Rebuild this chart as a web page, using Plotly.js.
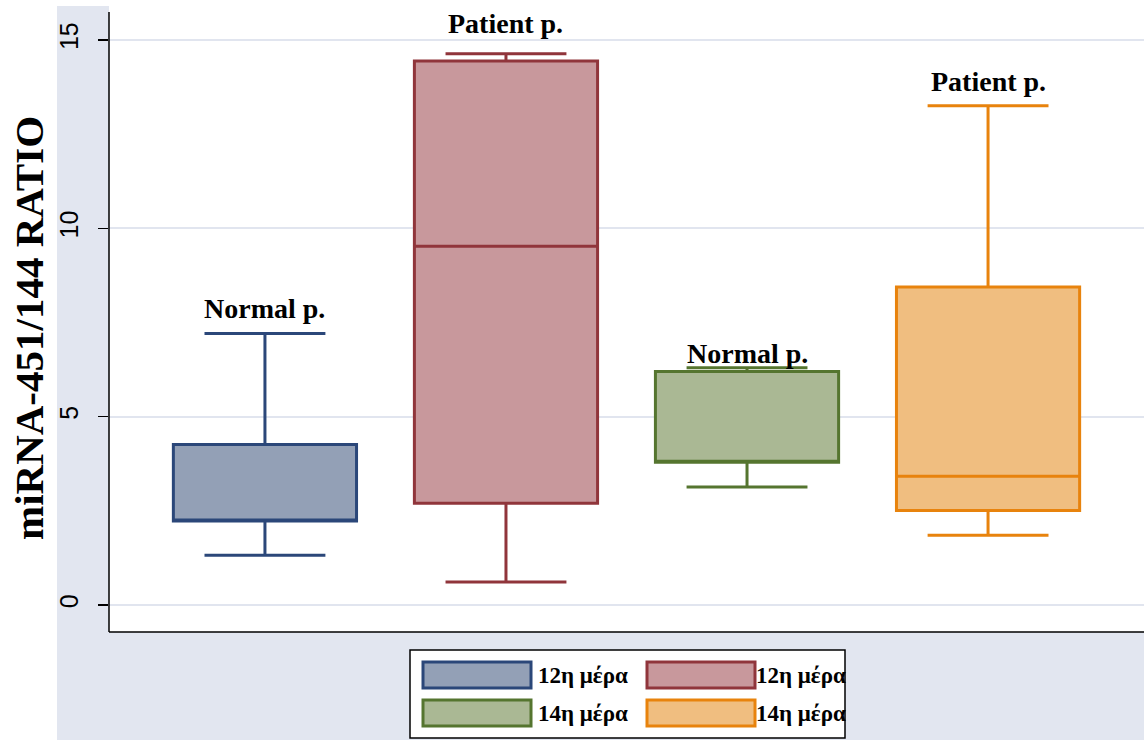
<!DOCTYPE html>
<html>
<head>
<meta charset="utf-8">
<script src="https://cdn.plot.ly/plotly-3.0.1.min.js"></script>
<style>html,body{margin:0;padding:0;background:#fff}#chart{width:1144px;height:740px}</style>
</head>
<body>
<div id="chart"></div>
<script>
// ---- data ----
const groups = ["Normal p.", "Patient p.", "Normal p.", "Patient p."];
const legendNames = ["12η μέρα", "12η μέρα", "14η μέρα", "14η μέρα"];
const lowerFence = [1.32, 0.61, 3.13, 1.85];
const q1Values = [2.23, 2.70, 3.79, 2.51];
const medianValues = [2.23, 9.52, 3.79, 3.42];
const q3Values = [4.26, 14.44, 6.20, 8.44];
const upperFence = [7.21, 14.63, 6.30, 13.25];
const yTicks = [0, 5, 10, 15];
const yTitle = "miRNA-451/144 RATIO";

// ---- styles ----
const lineColors = ["#2B4779", "#90353B", "#55752F", "#E8830D"];
const fillColors = ["#93A0B6", "#C8989C", "#AAB894", "#F0BE80"];
const labelShift = [25, 30, 14, 24];
const W = 1144, H = 740, ML = 109, MB = 108, MT = 0, MR = 0;
const PW = W - ML - MR, PH = H - MT - MB;
const px = X => (X - ML) / PW;
const py = Y => (H - MB - Y) / PH;

const traces = groups.map((g, i) => ({
  type: "box",
  name: legendNames[i],
  x: [i],
  q1: [q1Values[i]],
  median: [medianValues[i]],
  q3: [q3Values[i]],
  lowerfence: [lowerFence[i]],
  upperfence: [upperFence[i]],
  width: 0.76,
  whiskerwidth: 0.66,
  boxpoints: false,
  fillcolor: fillColors[i],
  line: {color: lineColors[i], width: 3},
  hoverinfo: "skip",
  showlegend: false
}));

const serif = "Liberation Serif, Times New Roman, serif";
const greekSerif = "Liberation Serif, DejaVu Serif, serif";
const annotations = groups.map((g, i) => ({
  x: i, y: upperFence[i], xref: "x", yref: "y",
  text: "<b>" + g + "</b>", showarrow: false,
  yanchor: "middle", yshift: labelShift[i],
  font: {family: serif, size: 28, color: "#000"}
}));

// y axis title
annotations.push({xref: "paper", yref: "paper", x: px(29), y: py(328),
  xanchor: "center", yanchor: "middle", textangle: -90, showarrow: false,
  text: "<b>" + yTitle + "</b>", font: {family: serif, size: 41, color: "#000"}});

// custom legend
const shapes = [
  {type: "rect", xref: "paper", yref: "paper", x0: px(0), x1: px(57), y0: py(740), y1: py(0), fillcolor: "#fff", line: {width: 0}, layer: "below"},
  {type: "rect", xref: "paper", yref: "paper", x0: px(0), x1: px(ML), y0: py(6), y1: py(0), fillcolor: "#fff", line: {width: 0}, layer: "below"},
  {type: "line", xref: "paper", yref: "paper", x0: px(109), x1: px(109), y0: py(12), y1: py(632), line: {color: "#000", width: 1.5}},
  {type: "line", xref: "paper", yref: "paper", x0: px(109), x1: px(1144), y0: py(632), y1: py(632), line: {color: "#000", width: 1.5}},
  {type: "rect", xref: "paper", yref: "paper", x0: px(410), x1: px(845), y0: py(650), y1: py(738), fillcolor: "#fff", line: {color: "#000", width: 1.5}}
];
const swX = [423, 647], swY = [675, 713], txtX = [536, 754];
[0, 1, 2, 3].forEach(i => {
  const col = i % 2, row = Math.floor(i / 2);
  shapes.push({type: "rect", xref: "paper", yref: "paper",
    x0: px(swX[col]), x1: px(swX[col] + 108), y0: py(swY[row] + 13), y1: py(swY[row] - 13),
    fillcolor: fillColors[i], line: {color: lineColors[i], width: 3}});
  annotations.push({xref: "paper", yref: "paper", x: px(txtX[col]), y: py(swY[row]),
    xanchor: "left", yanchor: "middle", showarrow: false,
    text: "<b>" + legendNames[i] + "</b>", font: {family: greekSerif, size: 23, color: "#000"}});
});

const layout = {
  width: W, height: H,
  margin: {l: ML, r: MR, t: MT, b: MB, pad: 0},
  paper_bgcolor: "#E2E6F0",
  plot_bgcolor: "#ffffff",
  showlegend: false,
  xaxis: {range: [-0.647, 3.647], showticklabels: false, ticks: "", showgrid: false, zeroline: false, showline: false, fixedrange: true},
  yaxis: {
    range: [-0.717, 16.06], tickvals: yTicks, ticktext: yTicks.map(String),
    tickangle: -90, ticks: "outside", ticklen: 10, tickwidth: 1.5, tickcolor: "#000",
    tickfont: {family: "Liberation Sans, Arial, sans-serif", size: 25, color: "#000"},
    ticklabelstandoff: 10,
    showgrid: true, gridcolor: "#E1E5EF", gridwidth: 2, zeroline: false, showline: false,
    automargin: false
  },
  annotations: annotations,
  shapes: shapes
};

Plotly.newPlot("chart", traces, layout, {displayModeBar: false, staticPlot: true});
</script>
</body>
</html>
